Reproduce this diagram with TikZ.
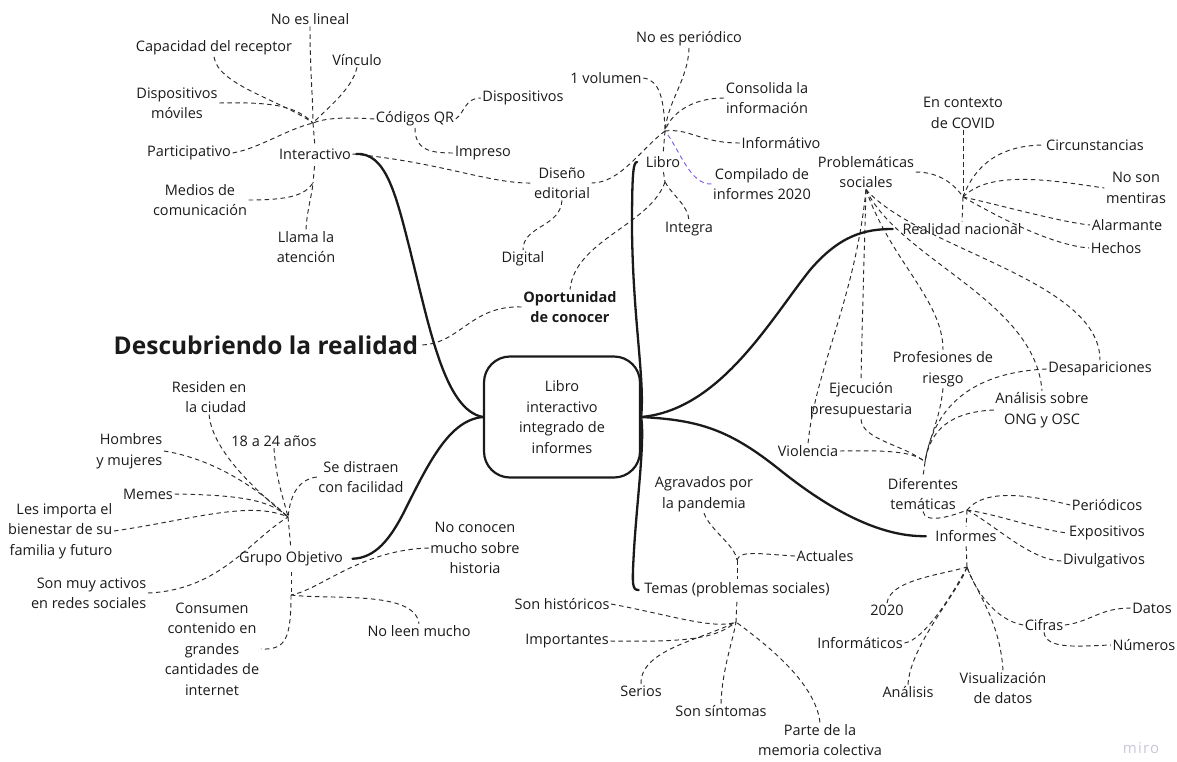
\documentclass[tikz,border=0pt]{standalone}
\usepackage{fontspec}
\setmainfont{Open Sans}
\definecolor{ink}{HTML}{1A1A1A}
\definecolor{dashc}{HTML}{2A2A2A}
\definecolor{purp}{RGB}{130,90,235}
\definecolor{wm}{RGB}{200,200,218}
\tikzset{
 t/.style={font=\fontsize{14.5}{20.5}\selectfont, text=ink, align=center, inner sep=1.5pt},
 tr/.style={t, align=right, anchor=east},
 tb/.style={t, font=\fontsize{14.5}{20.5}\selectfont\bfseries},
 dl/.style={draw=dashc, line width=0.95pt, dash pattern=on 4.5pt off 3.5pt},
 pl/.style={dl, draw=purp},
 br/.style={draw=ink, line width=2.3pt, line cap=round},
}
\begin{document}
\begin{tikzpicture}[x=1pt,y=-1pt]
\useasboundingbox (0,0) rectangle (1177,761);

% ---------- central ----------
\node[draw=ink, line width=2.2pt, rounded corners=26pt, minimum width=156pt, minimum height=121pt, t] (central) at (562,417) {Libro\\interactivo\\integrado de\\informes};
\node[font=\fontsize{24.5}{28}\selectfont\bfseries, text=ink, inner sep=1pt] (title) at (266,345) {Descubriendo la realidad};
\node[tb] (oport) at (570,307) {Oportunidad\\de conocer};

% ---------- Interactivo ----------
\node[t] (inter) at (315,154) {Interactivo};
\node[t] (nolin) at (310,19) {No es lineal};
\node[t] (capac) at (214,48) {Capacidad del receptor};
\node[t] (vinc) at (357,60) {Vínculo};
\node[t] (dmov) at (177,103) {Dispositivos\\móviles};
\node[t] (partic) at (189,153) {Participativo};
\node[t] (qr) at (415,119) {Códigos QR};
\node[t] (dispo) at (523,98) {Dispositivos};
\node[t] (impr) at (483,153) {Impreso};
\node[t] (medios) at (200,200) {Medios de\\comunicación};
\node[t] (llama) at (306,247) {Llama la\\atención};
\node[t] (dised) at (562,183) {Diseño\\editorial};
\node[t] (digital) at (523,259) {Digital};

\coordinate (ih) at (313,123);
\coordinate (ih2) at (313,183);
\draw[dl] (nolin.south) .. controls (310,70) and (313,100) .. (ih);
\draw[dl] (capac.south) .. controls (218,85) and (280,100) .. (ih);
\draw[dl] (vinc.south) .. controls (352,90) and (325,110) .. (ih);
\draw[dl] (dmov.east) .. controls (270,102) and (295,105) .. (ih);
\draw[dl] (partic.east) .. controls (260,148) and (285,130) .. (ih);
\draw[dl] (qr.west) .. controls (345,117) and (325,118) .. (ih);
\draw[dl, shorten >=3pt] (ih) -- (inter.north);
\draw[dl, shorten <=5pt] (inter.south) -- (ih2);
\draw[dl] (medios.east) .. controls (290,200) and (305,195) .. (ih2);
\draw[dl] (llama.north) .. controls (307,210) and (312,195) .. (ih2);
\draw[dl] (qr.east) .. controls (465,112) and (465,98) .. (dispo.west);
\draw[dl] (qr.south) .. controls (415,150) and (430,153) .. (impr.west);
\draw[dl] (inter.east) .. controls (440,162) and (490,184) .. (dised.west);
\draw[dl] (dised.south) .. controls (560,228) and (523,225) .. (digital.north);

% ---------- Libro ----------
\node[t] (libro) at (663,162) {Libro};
\node[t] (noper) at (689,39) {No es periódico};
\node[t] (vol) at (606,78) {1 volumen};
\node[t] (consol) at (767,98) {Consolida la\\información};
\node[t] (infv) at (781,143) {Informátivo};
\node[t] (compil) at (762,184) {Compilado de\\informes 2020};
\node[t] (integra) at (689,229) {Integra};

\coordinate (lh) at (665,131);
\coordinate (lh2) at (665,182);
\draw[dl] (noper.south) .. controls (688,80) and (668,100) .. (lh);
\draw[dl] (vol.east) .. controls (660,80) and (664,100) .. (lh);
\draw[dl] (consol.west) .. controls (690,98) and (670,115) .. (lh);
\draw[dl] (infv.west) .. controls (700,143) and (690,128) .. (lh);
\draw[pl] (compil.west) .. controls (690,185) and (680,150) .. (lh);
\draw[dl] (lh) .. controls (640,150) and (620,183) .. (dised.east);
\draw[dl, shorten >=2pt] (lh) -- (libro.north);
\draw[dl, shorten <=3pt] (libro.south) -- (lh2);
\draw[dl] (lh2) .. controls (672,195) and (688,205) .. (integra.north);
\draw[dl] (lh2) .. controls (650,225) and (575,240) .. (oport.north);
\draw[dl] (oport.west) .. controls (470,305) and (460,345) .. (title.east);

% ---------- Grupo Objetivo ----------
\node[t] (grupo) at (291,559) {Grupo Objetivo};
\node[tr] (residen) at (248,397) {Residen en\\la ciudad};
\node[tr] (hombres) at (164,451) {Hombres\\y mujeres};
\node[t] (edad) at (274,441) {18 a 24 años};
\node[t] (distraen) at (361,477) {Se distraen\\con facilidad};
\node[t] (memes) at (148,494) {Memes};
\node[tr] (importa) at (114,531) {Les importa el\\bienestar de su\\familia y futuro};
\node[tr] (activos) at (148,593) {Son muy activos\\en redes sociales};
\node[t] (consumen) at (212,649) {Consumen\\contenido en\\grandes\\cantidades de\\internet};
\node[t] (noconocen) at (475,548) {No conocen\\mucho sobre\\historia};
\node[t] (noleen) at (419,631) {No leen mucho};

\coordinate (gh) at (288,517);
\coordinate (gb) at (291,595);
\draw[dl] (residen.south) .. controls (212,450) and (255,490) .. (gh);
\draw[dl] (hombres.east) .. controls (220,460) and (265,495) .. (gh);
\draw[dl] (edad.south) .. controls (276,480) and (284,500) .. (gh);
\draw[dl] (distraen.west) .. controls (295,480) and (290,500) .. (gh);
\draw[dl] (memes.east) .. controls (240,495) and (270,500) .. (gh);
\draw[dl] (importa.east) .. controls (190,520) and (250,500) .. (gh);
\draw[dl] (activos.east) .. controls (220,590) and (250,540) .. (gh);
\draw[dl, shorten >=3pt] (gh) -- (grupo.north);
\draw[dl, shorten <=4pt] (grupo.south) -- (gb);
\draw[dl] (gb) .. controls (291,640) and (285,650) .. (consumen.east);
\draw[dl] (noconocen.west) .. controls (360,550) and (320,590) .. (gb);
\draw[dl] (gb) .. controls (330,600) and (415,590) .. (noleen.north);

% ---------- Temas ----------
\node[t] (temas) at (737,590) {Temas (problemas sociales)};
\node[t] (agrav) at (704,494) {Agravados por\\la pandemia};
\node[t] (actual) at (825,556) {Actuales};
\node[t] (hist) at (562,604) {Son históricos};
\node[t] (import) at (567,641) {Importantes};
\node[t] (serios) at (641,691) {Serios};
\node[t] (sint) at (721,711) {Son síntomas};
\node[t] (parte) at (820,740) {Parte de la\\memoria colectiva};

\coordinate (th) at (737,560);
\coordinate (tbh) at (736,622);
\draw[dl] (agrav.south) .. controls (710,530) and (735,545) .. (th);
\draw[dl] (actual.west) .. controls (760,554) and (740,550) .. (th);
\draw[dl, shorten >=2pt] (th) -- (temas.north);
\draw[dl, shorten <=3pt] (temas.south) -- (tbh);
\draw[dl] (hist.east) .. controls (670,615) and (715,630) .. (tbh);
\draw[dl] (import.east) .. controls (680,642) and (715,640) .. (tbh);
\draw[dl] (serios.north) .. controls (640,650) and (700,640) .. (tbh);
\draw[dl] (sint.north) .. controls (722,670) and (733,640) .. (tbh);
\draw[dl] (parte.north) .. controls (815,680) and (760,640) .. (tbh);

% ---------- Realidad nacional ----------
\node[t] (realidad) at (962,229) {Realidad nacional};
\node[t] (problem) at (866,172) {Problemáticas\\sociales};
\node[t] (covid) at (963,113) {En contexto\\de COVID};
\node[t] (circ) at (1095,145) {Circunstancias};
\node[t] (nosonm) at (1136,188) {No son\\mentiras};
\node[t] (alarm) at (1127,225) {Alarmante};
\node[t] (hechos) at (1116,248) {Hechos};
\node[t] (violencia) at (808,451) {Violencia};
\node[t] (ejec) at (861,400) {Ejecución\\presupuestaria};
\node[t] (prof) at (943,369) {Profesiones de\\riesgo};
\node[t] (desap) at (1100,369) {Desapariciones};
\node[t] (anal) at (1042,410) {Análisis sobre\\ONG y OSC};
\node[t] (dif) at (923,494) {Diferentes\\temáticas};

\coordinate (ch) at (963,197);
\draw[dl] (covid.south) -- (ch);
\draw[dl] (ch) -- (realidad.north);
\draw[dl] (problem.east) .. controls (940,172) and (955,185) .. (ch);
\draw[dl] (ch) .. controls (975,165) and (1000,145) .. (circ.west);
\draw[dl] (ch) .. controls (990,170) and (1050,180) .. (nosonm.west);
\draw[dl] (ch) .. controls (1000,205) and (1060,222) .. (alarm.west);
\draw[dl] (ch) .. controls (995,215) and (1050,245) .. (hechos.west);

\draw[dl] (problem.south) .. controls (855,300) and (815,370) .. (violencia.north);
\draw[dl] (problem.south) .. controls (864,260) and (862,330) .. (ejec.north);
\draw[dl] (problem.south) .. controls (890,260) and (943,300) .. (prof.north);
\draw[dl] (problem.south) .. controls (900,260) and (1035,300) .. (anal.north);
\draw[dl] (problem.south) .. controls (920,250) and (1100,280) .. (desap.north);

\coordinate (dh) at (925,462);
\draw[dl] (violencia.east) .. controls (890,450) and (915,452) .. (dh);
\draw[dl] (ejec.south) .. controls (862,440) and (905,445) .. (dh);
\draw[dl] (prof.south) .. controls (940,420) and (928,440) .. (dh);
\draw[dl] (anal.west) .. controls (950,412) and (930,430) .. (dh);
\draw[dl] (desap.west) .. controls (980,372) and (935,400) .. (dh);
\draw[dl, shorten >=2pt] (dh) -- (dif.north);

% ---------- Informes ----------
\node[t] (informes) at (966,536) {Informes};
\node[t] (period) at (1107,505) {Periódicos};
\node[t] (expos) at (1107,533) {Expositivos};
\node[t] (divulg) at (1104,561) {Divulgativos};
\node[t] (a2020) at (887,610) {2020};
\node[t] (informat) at (860,643) {Informáticos};
\node[t] (analisis) at (908,692) {Análisis};
\node[t] (visual) at (1003,688) {Visualización\\de datos};
\node[t] (cifras) at (1044,625) {Cifras};
\node[t] (datos) at (1152,608) {Datos};
\node[t] (numeros) at (1144,645) {Números};

\coordinate (ifh) at (967,510);
\coordinate (ifb) at (967,567);
\draw[dl] (dif.south) .. controls (925,525) and (955,515) .. (ifh);
\draw[dl, shorten >=2pt] (ifh) -- (informes.north);
\draw[dl] (ifh) .. controls (985,488) and (1030,495) .. (period.west);
\draw[dl] (ifh) .. controls (1000,515) and (1040,530) .. (expos.west);
\draw[dl] (ifh) .. controls (995,525) and (1030,560) .. (divulg.west);
\draw[dl, shorten <=3pt] (informes.south) -- (ifb);
\draw[dl] (a2020.north) .. controls (890,580) and (940,575) .. (ifb);
\draw[dl] (informat.east) .. controls (925,640) and (955,590) .. (ifb);
\draw[dl] (analisis.north) .. controls (910,645) and (960,590) .. (ifb);
\draw[dl] (visual.north) .. controls (1000,620) and (975,590) .. (ifb);
\draw[dl] (cifras.west) .. controls (995,620) and (975,590) .. (ifb);
\draw[dl] (cifras.east) .. controls (1090,622) and (1100,608) .. (datos.west);
\draw[dl] (cifras.south) .. controls (1046,650) and (1080,646) .. (numeros.west);

% ---------- thick branches ----------
\draw[br, shorten >=4pt] (central.west) .. controls (445,410) and (430,330) .. (410,250) .. controls (395,190) and (385,153) .. (inter.east);
\draw[br, shorten >=8pt] (central.west) .. controls (450,420) and (430,460) .. (405,510) .. controls (390,540) and (375,558) .. (grupo.east);
\draw[br, shorten >=7pt] (central.east) .. controls (645,380) and (633,320) .. (632,230) .. controls (632,175) and (633,162) .. (libro.west);
\draw[br, shorten >=4pt] (central.east) .. controls (645,440) and (637,500) .. (634,550) .. controls (632,585) and (632,590) .. (temas.west);
\draw[br, shorten >=8pt] (central.east) .. controls (720,410) and (770,320) .. (810,270) .. controls (840,235) and (865,229) .. (realidad.west);
\draw[br, shorten >=8pt] (central.east) .. controls (700,420) and (730,430) .. (780,470) .. controls (830,510) and (880,537) .. (informes.west);

\node[font=\fontsize{15}{15}\selectfont\addfontfeature{LetterSpace=8}, text=wm] (miro) at (1141,748) {miro};
\end{tikzpicture}
\end{document}
